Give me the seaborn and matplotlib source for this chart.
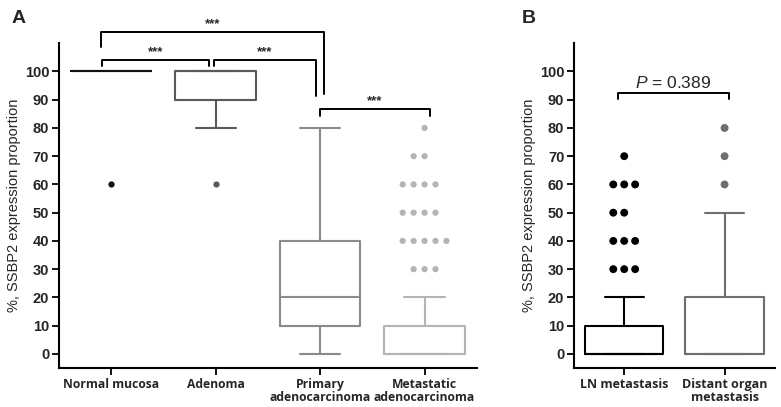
import pandas as pd
import seaborn as sns
import matplotlib.pyplot as plt

# PANEL A DATA
groups_a = ["Normal mucosa", "Adenoma", "Primary\nadenocarcinoma", "Metastatic\nadenocarcinoma"]
colors_a = ["#111111", "#5a5a5a", "#8a8a8a", "#b4b4b4"]
q1_a = [100, 90, 10, 0]
med_a = [100, 100, 20, 0]
q3_a = [100, 100, 40, 10]
whislo_a = [100, 80, 0, 0]
whishi_a = [100, 100, 80, 20]
# outliers: (group index, value)
out_grp_a = [0, 1, 3, 3, 3, 3, 3, 3, 3, 3, 3, 3, 3, 3, 3, 3, 3, 3, 3, 3, 3]
out_val_a = [60, 60, 80, 70, 70, 60, 60, 60, 60, 50, 50, 50, 50,
             40, 40, 40, 40, 40, 30, 30, 30]

# PANEL B DATA
groups_b = ["LN metastasis", "Distant organ\nmetastasis"]
colors_b = ["#000000", "#6e6e6e"]
q1_b = [0, 0]
med_b = [0, 0]
q3_b = [10, 20]
whislo_b = [0, 0]
whishi_b = [20, 50]
out_grp_b = [0, 0, 0, 0, 0, 0, 0, 0, 0, 0, 0, 0, 1, 1, 1]
out_val_b = [70, 60, 60, 60, 50, 50, 40, 40, 40, 30, 30, 30, 80, 70, 60]

yticks = list(range(0, 101, 10))

# SIGNIFICANCE BRACKETS (x1, x2, top, left leg end, right leg end, label)
brackets_a = [(-0.1, 2.04, 114.1, 108.8, 91.9, "***"),
              (-0.09, 0.94, 104.2, 102.1, 102.1, "***"),
              (0.98, 1.96, 104.2, 102.1, 91.2, "***"),
              (2.0, 3.05, 86.6, 84.4, 84.4, "***")]
bracket_b = (-0.06, 1.04, 92.2, 90.4, 90.4, r"$\mathit{P}$ = 0.389")

sns.set_style("white")
plt.rcParams["font.family"] = ["Liberation Sans", "DejaVu Sans"]
plt.rcParams["mathtext.fontset"] = "custom"
plt.rcParams["mathtext.it"] = "Liberation Sans:italic"
plt.rcParams["mathtext.rm"] = "Liberation Sans"

fig = plt.figure(figsize=(7.81, 4.07), dpi=100)
ax_a = fig.add_axes([0.0755, 0.0958, 0.535, 0.798])
ax_b = fig.add_axes([0.735, 0.0958, 0.257, 0.798])


def draw_panel(ax, groups, colors, q1, med, q3, lo, hi, og, ov, dot_size, dot_lw, width, lab_fs):
    for i in range(len(groups)):
        st = dict(q1=q1[i], med=med[i], q3=q3[i], whislo=lo[i], whishi=hi[i], fliers=[])
        c = colors[i]
        # a collapsed box (all stats equal) is just one line, skip the caps on top of it
        flat = q1[i] == q3[i] == lo[i] == hi[i]
        ax.bxp([st], positions=[i], widths=width, showfliers=False, manage_ticks=False,
               showcaps=not flat,
               boxprops=dict(color=c, linewidth=1.5),
               whiskerprops=dict(color=c, linewidth=1.5),
               capprops=dict(color=c, linewidth=1.5),
               medianprops=dict(color=c, linewidth=1.5 if not flat else 0))
    df = pd.DataFrame({"g": [groups[k] for k in og], "v": ov})
    sns.swarmplot(data=df, x="g", y="v", order=groups, hue="g", hue_order=groups,
                  palette=dict(zip(groups, colors)), size=dot_size, linewidth=dot_lw,
                  edgecolor="white", legend=False, ax=ax, zorder=3)
    ax.set_xlim(-0.5, len(groups) - 0.5)
    ax.set_ylim(-5, 110)
    ax.set_yticks(yticks)
    ax.set_yticklabels([str(t) for t in yticks], fontsize=10.5, fontweight="bold")
    ax.set_xticks(range(len(groups)))
    ax.set_xticklabels(groups, fontsize=lab_fs, fontweight="bold",
                       family=["Open Sans", "DejaVu Sans"], linespacing=1.0)
    ax.set_xlabel("")
    ax.set_ylabel("%, SSBP2 expression proportion", fontsize=10.5, labelpad=3)
    ax.tick_params(axis="both", direction="out", length=5, width=1.3, color="black",
                   left=True, bottom=True, pad=2)
    for s in ["top", "right"]:
        ax.spines[s].set_visible(False)
    for s in ["left", "bottom"]:
        ax.spines[s].set_color("black")
        ax.spines[s].set_linewidth(1.5)


def draw_bracket(ax, x1, x2, top, leg1, leg2, label, fs, weight, gap):
    ax.plot([x1, x1, x2, x2], [leg1, top, top, leg2], color="black", lw=1.4,
            clip_on=False, zorder=4)
    ax.text((x1 + x2) / 2, top + gap, label, ha="center", va="bottom",
            fontsize=fs, fontweight=weight, clip_on=False)


draw_panel(ax_a, groups_a, colors_a, q1_a, med_a, q3_a, whislo_a, whishi_a,
           out_grp_a, out_val_a, 6.0, 1.5, 0.77, 8.7)
draw_panel(ax_b, groups_b, colors_b, q1_b, med_b, q3_b, whislo_b, whishi_b,
           out_grp_b, out_val_b, 6.6, 0.9, 0.78, 9)

for b in brackets_a:
    draw_bracket(ax_a, *b, fs=9.5, weight="bold", gap=0.6)
draw_bracket(ax_b, *bracket_b, fs=12.5, weight="normal", gap=1.0)

fig.text(0.015, 0.955, "A", fontsize=14, fontweight="bold", ha="left", va="center")
fig.text(0.668, 0.955, "B", fontsize=14, fontweight="bold", ha="left", va="center")

fig.savefig("out.png", dpi=100)
